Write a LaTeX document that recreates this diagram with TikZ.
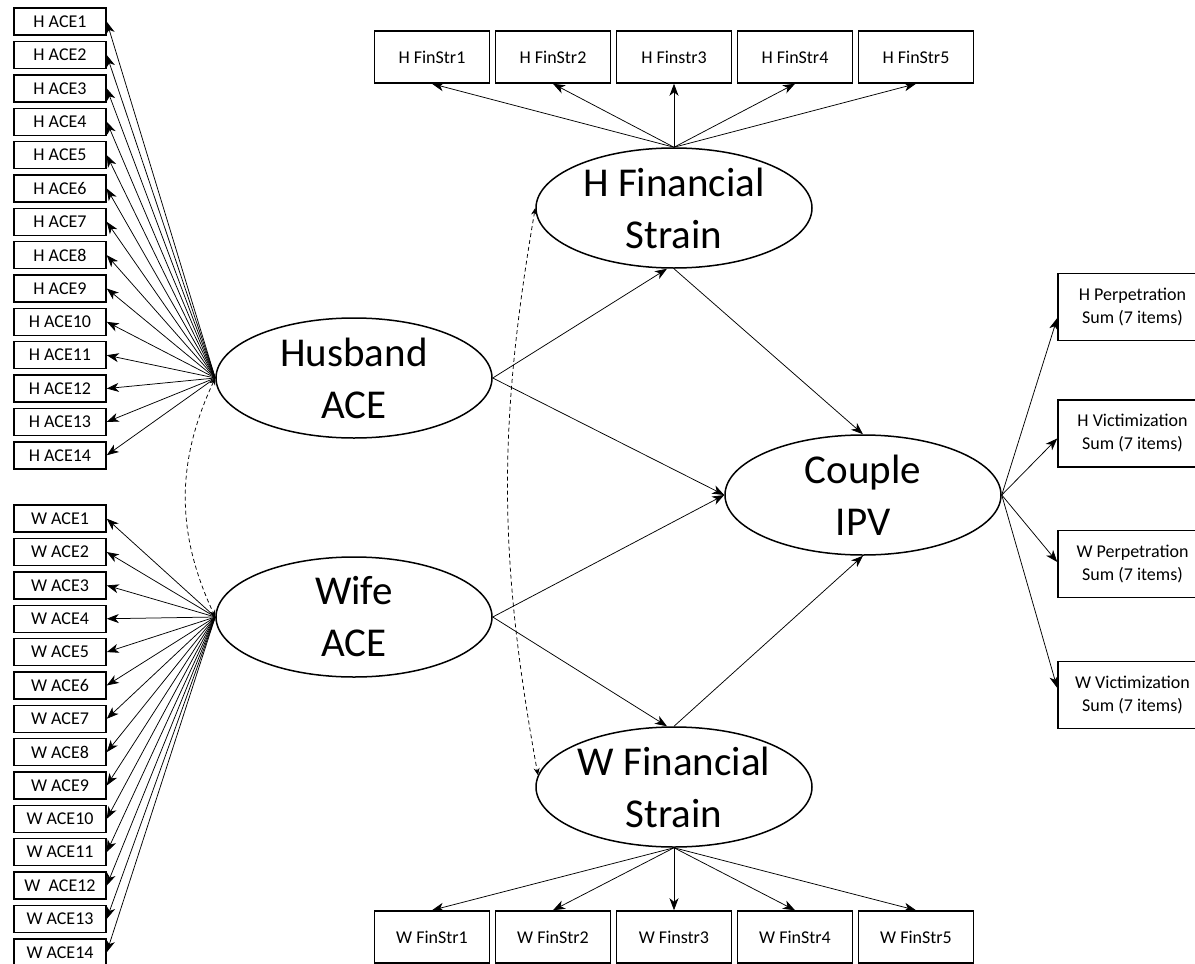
\documentclass[tikz,border=0pt]{standalone}
\usepackage{fontspec}
\setmainfont{Carlito}
\usetikzlibrary{arrows.meta,shapes.geometric}
\begin{document}
\begin{tikzpicture}[x=1pt,y=-1pt,
  box/.style={draw,line width=1.5pt,inner sep=0pt,align=center,font=\fontsize{18}{23}\selectfont},
  acebox/.style={box,minimum width=92pt,minimum height=27pt},
  finbox/.style={box,minimum width=115pt,minimum height=52pt},
  ipvbox/.style={box,minimum width=149pt,minimum height=67pt},
  lat/.style={draw,ellipse,line width=1.5pt,minimum width=276pt,minimum height=120pt,inner sep=0pt,align=center,font=\fontsize{41}{52}\selectfont},
  arr/.style={-{Stealth[length=12pt,width=9pt,inset=3.5pt]},line width=0.75pt},
  cov/.style={{Stealth[length=7pt,width=6pt]}-{Stealth[length=7pt,width=6pt]},dash pattern=on 4pt off 3pt,line width=0.75pt}
]
\useasboundingbox (0,0) rectangle (1195,964);

% latent variables
\node[lat] (hace) at (354,378) {Husband\\ACE};
\node[lat] (wace) at (354,617) {Wife\\ACE};
\node[lat] (hfs) at (674,208) {H Financial\\Strain};
\node[lat] (wfs) at (674,787) {W Financial\\Strain};
\node[lat] (ipv) at (863,495) {Couple\\IPV};

% husband ACE indicators
\node[acebox] (h1) at (60,21.7) {H ACE1};
\node[acebox] (h2) at (60,55.05) {H ACE2};
\node[acebox] (h3) at (60,88.4) {H ACE3};
\node[acebox] (h4) at (60,121.75) {H ACE4};
\node[acebox] (h5) at (60,155.1) {H ACE5};
\node[acebox] (h6) at (60,188.45) {H ACE6};
\node[acebox] (h7) at (60,221.8) {H ACE7};
\node[acebox] (h8) at (60,255.15) {H ACE8};
\node[acebox] (h9) at (60,288.5) {H ACE9};
\node[acebox] (h10) at (60,321.85) {H ACE10};
\node[acebox] (h11) at (60,355.2) {H ACE11};
\node[acebox] (h12) at (60,388.55) {H ACE12};
\node[acebox] (h13) at (60,421.9) {H ACE13};
\node[acebox] (h14) at (60,455.25) {H ACE14};

% wife ACE indicators
\node[acebox] (w1) at (60,518.7) {W ACE1};
\node[acebox] (w2) at (60,552.05) {W ACE2};
\node[acebox] (w3) at (60,585.4) {W ACE3};
\node[acebox] (w4) at (60,618.75) {W ACE4};
\node[acebox] (w5) at (60,652.1) {W ACE5};
\node[acebox] (w6) at (60,685.45) {W ACE6};
\node[acebox] (w7) at (60,718.8) {W ACE7};
\node[acebox] (w8) at (60,752.15) {W ACE8};
\node[acebox] (w9) at (60,785.5) {W ACE9};
\node[acebox] (w10) at (60,818.85) {W ACE10};
\node[acebox] (w11) at (60,852.2) {W ACE11};
\node[acebox] (w12) at (60,885.55) {W~ ACE12};
\node[acebox] (w13) at (60,918.9) {W ACE13};
\node[acebox] (w14) at (60,952.25) {W ACE14};

% financial strain indicators
\node[finbox] (hf1) at (432,57) {H FinStr1};
\node[finbox] (hf2) at (553,57) {H FinStr2};
\node[finbox] (hf3) at (674,57) {H Finstr3};
\node[finbox] (hf4) at (795,57) {H FinStr4};
\node[finbox] (hf5) at (916,57) {H FinStr5};
\node[finbox] (wf1) at (432,937) {W FinStr1};
\node[finbox] (wf2) at (553,937) {W FinStr2};
\node[finbox] (wf3) at (674,937) {W Finstr3};
\node[finbox] (wf4) at (795,937) {W FinStr4};
\node[finbox] (wf5) at (916,937) {W FinStr5};

% IPV indicators
\node[ipvbox] (hp) at (1132.5,307) {H Perpetration\\Sum (7 items)};
\node[ipvbox] (hv) at (1132.5,433.5) {H Victimization\\Sum (7 items)};
\node[ipvbox] (wp) at (1132.5,564) {W Perpetration\\Sum (7 items)};
\node[ipvbox] (wv) at (1132.5,695) {W Victimization\\Sum (7 items)};

% loadings
\foreach \i in {1,...,14} {
  \draw[arr] (hace.west) -- (h\i.east);
  \draw[arr] (wace.west) -- (w\i.east);
}
\foreach \i in {1,...,5} {
  \draw[arr] (hfs.north) -- (hf\i.south);
  \draw[arr] (wfs.south) -- (wf\i.north);
}
\draw[arr] (ipv.east) -- ([yshift=-11pt]hp.west);
\draw[arr] (ipv.east) -- ([yshift=-5pt]hv.west);
\draw[arr] (ipv.east) -- ([yshift=2pt]wp.west);
\draw[arr] (ipv.east) -- ([yshift=7pt]wv.west);

% structural paths
\draw[arr] (hace.east) -- ([xshift=-7pt]hfs.south);
\draw[arr] (hace.east) -- (ipv.west);
\draw[arr] (wace.east) -- (ipv.west);
\draw[arr] (wace.east) -- ([xshift=-7pt]wfs.north);
\draw[arr] (hfs.south) -- (ipv.north);
\draw[arr] (wfs.north) -- (ipv.south);

% covariances
\draw[cov] (hace.west) to[bend right=25] (wace.west);
\draw[cov] (hfs.west) to[bend right=10] (wfs.175);
\end{tikzpicture}
\end{document}
